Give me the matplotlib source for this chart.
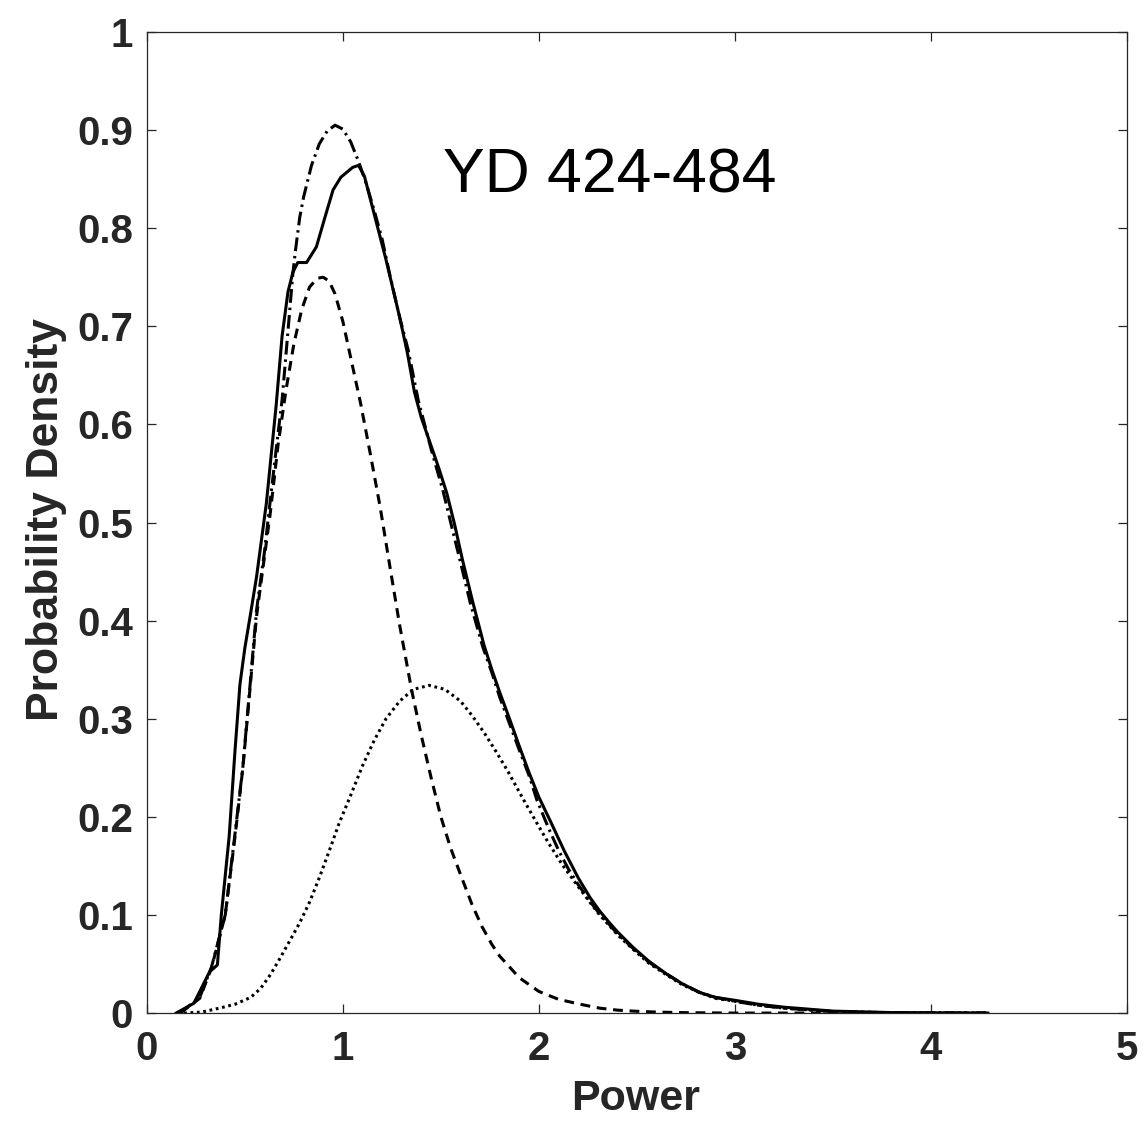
import matplotlib
matplotlib.use("Agg")
import matplotlib.pyplot as plt

# empirical density (solid)
x_emp = [0.15, 0.24, 0.32, 0.36, 0.38, 0.42, 0.45, 0.475, 0.50, 0.53, 0.56, 0.61, 0.66, 0.69,
         0.72, 0.745, 0.77, 0.815, 0.865, 0.91, 0.95, 0.99, 1.02, 1.05, 1.08, 1.11, 1.15,
         1.22, 1.29, 1.33, 1.365, 1.40, 1.44, 1.49, 1.53, 1.57, 1.61, 1.66, 1.72, 1.76,
         1.80, 1.85, 1.90, 1.95, 2.00, 2.06, 2.13, 2.20, 2.26, 2.31, 2.36, 2.40, 2.48, 2.56, 2.65,
         2.73, 2.82, 2.90, 3.00, 3.12, 3.25, 3.50, 3.80, 4.29]
y_emp = [0.0, 0.010, 0.042, 0.049, 0.100, 0.180, 0.268, 0.335, 0.372, 0.408, 0.445, 0.520, 0.620, 0.690,
         0.735, 0.755, 0.765, 0.765, 0.781, 0.812, 0.839, 0.852, 0.857, 0.862, 0.864, 0.853, 0.822,
         0.768, 0.709, 0.672, 0.633, 0.607, 0.584, 0.555, 0.530, 0.498, 0.462, 0.421, 0.375, 0.350,
         0.327, 0.300, 0.272, 0.245, 0.220, 0.195, 0.165, 0.138, 0.118, 0.104, 0.092, 0.083, 0.067, 0.053, 0.040,
         0.030, 0.021, 0.016, 0.013, 0.009, 0.006, 0.002, 0.0005, 0.0]

# fitted mixture (dash-dot)
x_mix = [0.17, 0.27, 0.33, 0.40, 0.45, 0.49, 0.526, 0.56, 0.60, 0.63, 0.66, 0.69, 0.72,
         0.745, 0.76, 0.78, 0.80, 0.84, 0.88, 0.92, 0.96, 1.00, 1.04, 1.08, 1.12, 1.16,
         1.20, 1.24, 1.29, 1.333, 1.384, 1.45, 1.51, 1.55, 1.597, 1.65, 1.714, 1.76,
         1.80, 1.85, 1.90, 1.95, 1.99, 2.05, 2.10, 2.15, 2.20, 2.26, 2.31, 2.36, 2.40, 2.48, 2.56, 2.65,
         2.73, 2.82, 2.90, 3.00, 3.12, 3.25, 3.50, 3.80, 4.29]
y_mix = [0.0, 0.016, 0.047, 0.100, 0.183, 0.251, 0.333, 0.411, 0.470, 0.523, 0.575, 0.625, 0.695,
         0.754, 0.780, 0.811, 0.832, 0.864, 0.886, 0.899, 0.905, 0.901, 0.888, 0.868, 0.845, 0.818,
         0.789, 0.752, 0.709, 0.676, 0.625, 0.575, 0.533, 0.500, 0.462, 0.418, 0.373, 0.347,
         0.322, 0.295, 0.268, 0.242, 0.217, 0.188, 0.166, 0.147, 0.131, 0.114, 0.101, 0.090, 0.081, 0.066, 0.052, 0.040,
         0.030, 0.021, 0.016, 0.012, 0.008, 0.005, 0.0015, 0.0003, 0.0]

# component 1 (dashed)
x_c1 = [0.17, 0.27, 0.33, 0.40, 0.45, 0.49, 0.526, 0.56, 0.60, 0.63, 0.67, 0.71, 0.75,
        0.79, 0.83, 0.87, 0.90, 0.93, 0.96, 1.00, 1.04, 1.09, 1.14, 1.19, 1.24, 1.29,
        1.35, 1.40, 1.45, 1.50, 1.55, 1.61, 1.66, 1.71, 1.76, 1.80, 1.90, 2.00, 2.10,
        2.21, 2.31, 2.40, 2.48, 2.60, 2.75, 3.00, 4.29]
y_c1 = [0.0, 0.015, 0.046, 0.100, 0.180, 0.250, 0.330, 0.405, 0.465, 0.510, 0.580, 0.635, 0.682,
        0.717, 0.740, 0.749, 0.750, 0.746, 0.733, 0.705, 0.668, 0.622, 0.570, 0.516, 0.455, 0.395,
        0.330, 0.283, 0.240, 0.200, 0.168, 0.136, 0.110, 0.088, 0.070, 0.058, 0.036, 0.022, 0.014,
        0.009, 0.005, 0.003, 0.002, 0.001, 0.0004, 0.0, 0.0]

# component 2 (dotted)
x_c2 = [0.19, 0.28, 0.37, 0.45, 0.53, 0.58, 0.63, 0.68, 0.73, 0.78, 0.83, 0.88, 0.93,
        0.98, 1.04, 1.10, 1.16, 1.22, 1.29, 1.36, 1.44, 1.52, 1.60, 1.66, 1.72, 1.78,
        1.84, 1.92, 2.00, 2.05, 2.12, 2.20, 2.26, 2.31, 2.36, 2.40, 2.48, 2.56, 2.65, 2.73, 2.82,
        2.90, 3.00, 3.12, 3.25, 3.50, 3.80, 4.29]
y_c2 = [0.0, 0.001, 0.005, 0.009, 0.016, 0.025, 0.039, 0.056, 0.074, 0.092, 0.113, 0.138, 0.165,
        0.193, 0.222, 0.252, 0.278, 0.300, 0.318, 0.330, 0.334, 0.330, 0.318, 0.303, 0.286, 0.267,
        0.247, 0.218, 0.190, 0.173, 0.151, 0.129, 0.113, 0.100, 0.089, 0.080, 0.065, 0.051, 0.039, 0.029, 0.021,
        0.015, 0.012, 0.008, 0.005, 0.0015, 0.0003, 0.0]

x_ticks = [0, 1, 2, 3, 4, 5]
y_ticks = [0, 0.1, 0.2, 0.3, 0.4, 0.5, 0.6, 0.7, 0.8, 0.9, 1]
y_tick_labels = ["0", "0.1", "0.2", "0.3", "0.4", "0.5", "0.6", "0.7", "0.8", "0.9", "1"]

plt.rcParams["font.family"] = ["Liberation Sans", "DejaVu Sans"]

fig = plt.figure(figsize=(11.47, 11.26), dpi=100)
ax = fig.add_axes([0.128, 0.1003, 0.8546, 0.8713])

lw = 2.2
ax.plot(x_emp, y_emp, color="black", lw=lw, linestyle="-")
ax.plot(x_mix, y_mix, color="black", lw=lw, linestyle=(0, (4.5, 1.6, 0.8, 1.6)))
ax.plot(x_c1, y_c1, color="black", lw=lw, linestyle=(0, (3.2, 2.2)))
ax.plot(x_c2, y_c2, color="black", lw=lw, linestyle=(0, (0.9, 1.2)))

ax.text(1.51, 0.836, "YD 424-484", fontsize=45, ha="left", va="baseline", color="black")

ax.set_xlim(0, 5)
ax.set_ylim(0, 1)
ax.set_xticks(x_ticks)
ax.set_xticklabels([str(t) for t in x_ticks])
ax.set_yticks(y_ticks)
ax.set_yticklabels(y_tick_labels)

dark = "#262626"
for s in ax.spines.values():
    s.set_color(dark)
    s.set_linewidth(0.9)
ax.tick_params(direction="in", length=6.5, width=0.9, color=dark,
               top=True, right=True, labelsize=29, labelcolor=dark)
ax.tick_params(axis="y", pad=10)
ax.tick_params(axis="x", pad=12)
for lab in ax.get_xticklabels() + ax.get_yticklabels():
    lab.set_fontweight("bold")

ax.set_xlabel("Power", fontsize=31, fontweight="bold", color=dark, va="center")
ax.set_ylabel("Probability Density", fontsize=32, fontweight="bold", color=dark, va="center")
ax.xaxis.set_label_coords(0.499, -0.088)
ax.yaxis.set_label_coords(-0.102, 0.503)

fig.savefig("out.png", dpi=100)
